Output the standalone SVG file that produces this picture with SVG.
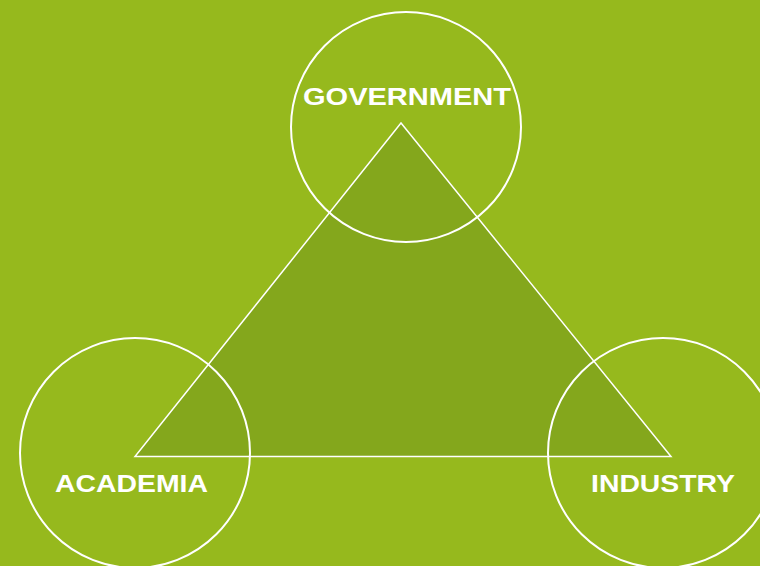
<svg xmlns="http://www.w3.org/2000/svg" width="760" height="566" viewBox="0 0 760 566">
  <style>
    .ring { fill: none; stroke: #ffffff; stroke-width: 2; }
    .tri { fill: #84a71c; stroke: #ffffff; stroke-width: 1.5; stroke-linejoin: miter; }
    .label { fill: #ffffff; font-family: "Liberation Sans", Arial, sans-serif; font-weight: bold; font-size: 23px; }
  </style>
  <rect x="0" y="0" width="760" height="566" fill="#96b91d"/>
  <g id="connectors">
    <polygon class="tri" points="401,123 135,456.5 671,456.5"/>
  </g>
  <g id="government">
    <circle class="ring" cx="406" cy="127" r="115"/>
    <text class="label" x="303" y="105" textLength="208" lengthAdjust="spacingAndGlyphs">GOVERNMENT</text>
  </g>
  <g id="academia">
    <circle class="ring" cx="135" cy="453" r="115"/>
    <text class="label" x="55" y="492" textLength="153" lengthAdjust="spacingAndGlyphs">ACADEMIA</text>
  </g>
  <g id="industry">
    <circle class="ring" cx="663" cy="453" r="115"/>
    <text class="label" x="591" y="492" textLength="144" lengthAdjust="spacingAndGlyphs">INDUSTRY</text>
  </g>
</svg>
